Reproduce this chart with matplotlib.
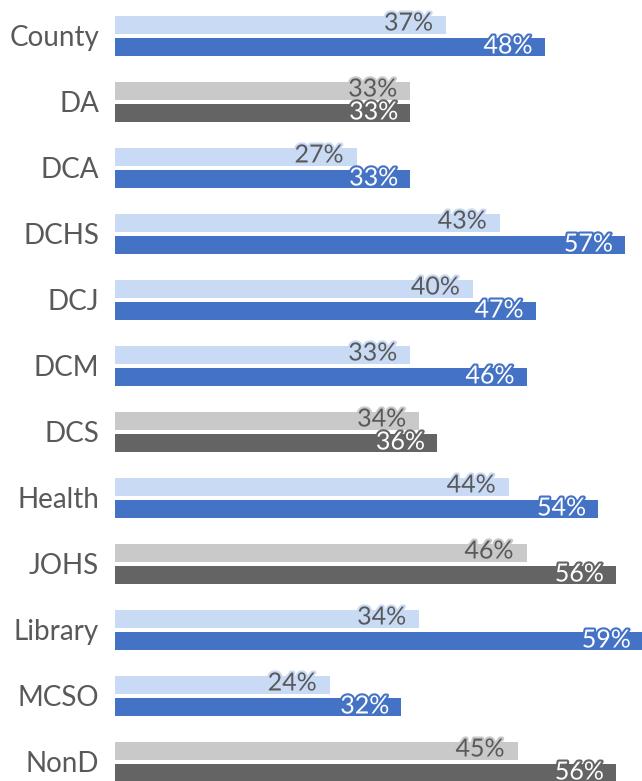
import matplotlib
matplotlib.use("Agg")
import matplotlib.pyplot as plt
import matplotlib.patheffects as pe
import numpy as np

plt.rcParams['font.family'] = ['Lato', 'DejaVu Sans']

categories = ["County", "DA", "DCA", "DCHS", "DCJ", "DCM", "DCS",
              "Health", "JOHS", "Library", "MCSO", "NonD"]
before = [37, 33, 27, 43, 40, 33, 34, 44, 46, 34, 24, 45]
after = [48, 33, 33, 57, 47, 46, 36, 54, 56, 59, 32, 56]
gray_groups = ["DA", "DCS", "JOHS", "NonD"]

BLUE_LIGHT = "#C9DAF5"
BLUE_DARK = "#4472C4"
GRAY_LIGHT = "#C9C9C9"
GRAY_DARK = "#646464"
TEXT_GRAY = "#595959"

fig = plt.figure(figsize=(6.42, 7.81), dpi=100)
ax = fig.add_axes([115 / 642, 0, 1 - 115 / 642, 1])

y = np.arange(len(categories))
off = 11 / 66.0
h = 18 / 66.0

for i, cat in enumerate(categories):
    gray = cat in gray_groups
    c_light = GRAY_LIGHT if gray else BLUE_LIGHT
    c_dark = GRAY_DARK if gray else BLUE_DARK
    ax.barh(y[i] - off, before[i], height=h, color=c_light)
    ax.barh(y[i] + off, after[i], height=h, color=c_dark)

    ax.annotate("%d%%" % before[i], xy=(before[i], y[i] - off),
                xytext=(-13, 2), textcoords="offset pixels",
                ha="right", va="center", fontsize=18, color=TEXT_GRAY,
                annotation_clip=False,
                path_effects=[pe.withStroke(linewidth=3, foreground=c_light)])
    ax.annotate("%d%%" % after[i], xy=(after[i], y[i] + off),
                xytext=(-12, 1), textcoords="offset pixels",
                ha="right", va="center", fontsize=18, color="white",
                annotation_clip=False,
                path_effects=[pe.withStroke(linewidth=3, foreground=c_dark)])

ax.set_xlim(0, 527 / 8.95)
ax.set_ylim(11.288, -0.545)
ax.set_yticks(y)
ax.set_yticklabels(categories, fontsize=20, color=TEXT_GRAY)
ax.tick_params(axis="y", length=0, pad=11.5)
ax.set_xticks([])
for s in ax.spines.values():
    s.set_visible(False)

fig.savefig("out.png", dpi=100)
